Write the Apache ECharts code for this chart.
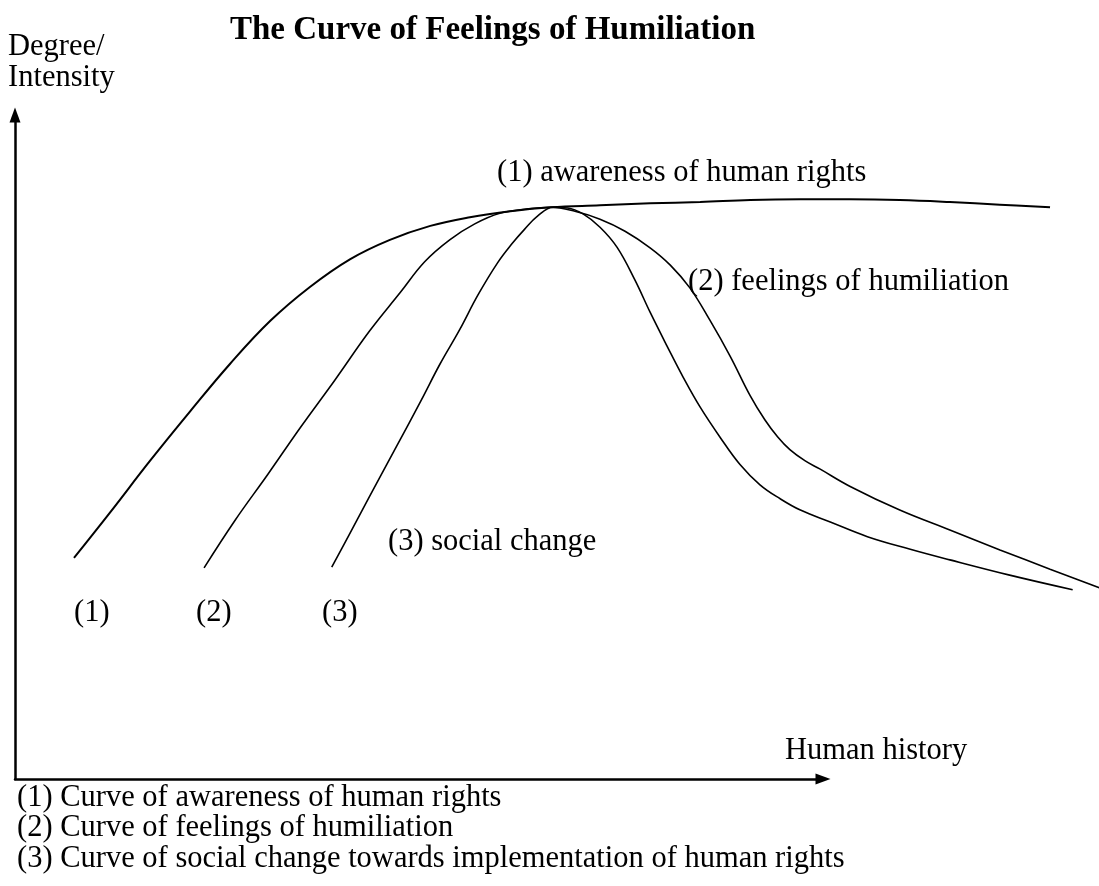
<!DOCTYPE html>
<html>
<head>
<meta charset="utf-8">
<script src="https://cdn.jsdelivr.net/npm/echarts@6/dist/echarts.min.js"></script>
<style>
html,body{margin:0;padding:0;background:#fff;}
#chart{width:1099px;height:886px;}
</style>
</head>
<body>
<div id="chart"></div>
<script>
// Data (x: human history, y: degree/intensity)
const awareness = [[7.3,33.3],[11.8,40.2],[16.7,47.9],[21.7,55.4],[26.6,62.5],[31.6,69.0],[36.5,74.1],[41.5,78.3],[46.4,81.2],[51.4,83.3],[56.3,84.6],[61.3,85.5],[66.3,86.1],[72.4,86.4],[78.6,86.7],[84.8,86.9],[91.0,87.2],[97.2,87.3],[103.3,87.3],[109.5,87.2],[115.7,86.9],[121.9,86.5],[128.1,86.1]];
const humiliation = [[23.4,31.8],[27.2,38.9],[31.3,45.9],[35.3,52.9],[39.6,60.1],[43.9,67.5],[47.7,73.3],[50.7,77.9],[53.8,81.2],[56.9,83.6],[60.0,85.2],[63.1,85.8],[66.3,86.1],[69.3,85.5],[72.4,84.3],[75.5,82.5],[78.6,80.0],[81.1,77.4],[83.5,74.0],[86.0,69.1],[88.5,63.7],[91.0,57.7],[92.8,54.1],[94.4,51.5],[95.9,49.6],[97.8,47.9],[99.6,46.7],[103.3,44.1],[109.5,40.5],[115.7,37.5],[121.9,34.5],[128.1,31.6],[134.2,28.8],[136.1,27.9]];
const socialChange = [[39.2,31.9],[41.5,37.1],[43.9,42.6],[47.0,49.6],[50.3,57.1],[52.6,62.5],[55.0,67.6],[57.3,72.9],[59.7,77.7],[61.5,80.6],[63.0,82.7],[64.7,84.8],[66.6,86.1],[68.4,86.0],[70.3,85.1],[72.4,83.1],[74.5,80.1],[76.7,75.2],[78.6,70.3],[80.7,65.2],[82.7,60.5],[84.8,56.0],[87.3,51.4],[89.7,47.4],[92.2,44.3],[94.7,42.2],[97.2,40.5],[100.9,38.7],[105.5,36.5],[110.8,34.6],[115.7,33.0],[123.1,30.7],[130.9,28.5]];

const title = 'The Curve of Feelings of Humiliation';
const yName = ['Degree/', 'Intensity'];
const xName = 'Human history';
const curveLabels = ['(1) awareness of human rights', '(2) feelings of humiliation', '(3) social change'];
const startLabels = ['(1)', '(2)', '(3)'];
const legendLines = ['(1) Curve of awareness of human rights', '(2) Curve of feelings of humiliation', '(3) Curve of social change towards implementation of human rights'];

const FONT = '"Liberation Serif", "Times New Roman", serif';
const FS = 30.5;
const chart = echarts.init(document.getElementById('chart'));

function txt(t, left, top) {
  return { type: 'text', left: left, top: top, style: { text: t, font: FS + 'px ' + FONT, fill: '#000' } };
}

const graphics = [
  { type: 'text', left: 230, top: 14, style: { text: title, font: 'bold 33px ' + FONT, fill: '#000' } },
  txt(yName[0], 8, 31),
  txt(yName[1], 8, 62),
  txt(curveLabels[0], 497, 157),
  txt(curveLabels[1], 688, 266),
  txt(curveLabels[2], 388, 526),
  txt(startLabels[0], 74, 597),
  txt(startLabels[1], 196, 597),
  txt(startLabels[2], 322, 597),
  txt(xName, 785, 735),
  txt(legendLines[0], 17, 782),
  txt(legendLines[1], 17, 812),
  txt(legendLines[2], 17, 843)
];

function lineSeries(d, w) {
  return { type: 'line', data: d, xAxisIndex: 1, yAxisIndex: 1, smooth: 0.4,
    showSymbol: false, silent: true, lineStyle: { color: '#000', width: w } };
}

const hidden = { axisTick: { show: false }, axisLabel: { show: false }, splitLine: { show: false } };
const arrowLine = { show: true, onZero: false, symbol: ['none', 'triangle'], symbolSize: [11, 15], lineStyle: { color: '#000', width: 2.5 } };

// axes grid: 808 px wide for 0..100; curve grid spans to the page edge with the same scale
chart.setOption({
  animation: false,
  backgroundColor: '#fff',
  grid: [
    { left: 15, right: 276, top: 115, bottom: 107 },
    { left: 15, right: 0, top: 115, bottom: 107 }
  ],
  xAxis: [
    Object.assign({ type: 'value', min: 0, max: 100, gridIndex: 0, axisLine: arrowLine }, hidden),
    Object.assign({ type: 'value', min: 0, max: 100 * 1084 / 808, gridIndex: 1, axisLine: { show: false } }, hidden)
  ],
  yAxis: [
    Object.assign({ type: 'value', min: 0, max: 100, gridIndex: 0, axisLine: arrowLine }, hidden),
    Object.assign({ type: 'value', min: 0, max: 100, gridIndex: 1, axisLine: { show: false } }, hidden)
  ],
  series: [
    lineSeries(awareness, 2),
    lineSeries(humiliation, 1.6),
    lineSeries(socialChange, 1.6)
  ],
  graphic: graphics
});
</script>
</body>
</html>
